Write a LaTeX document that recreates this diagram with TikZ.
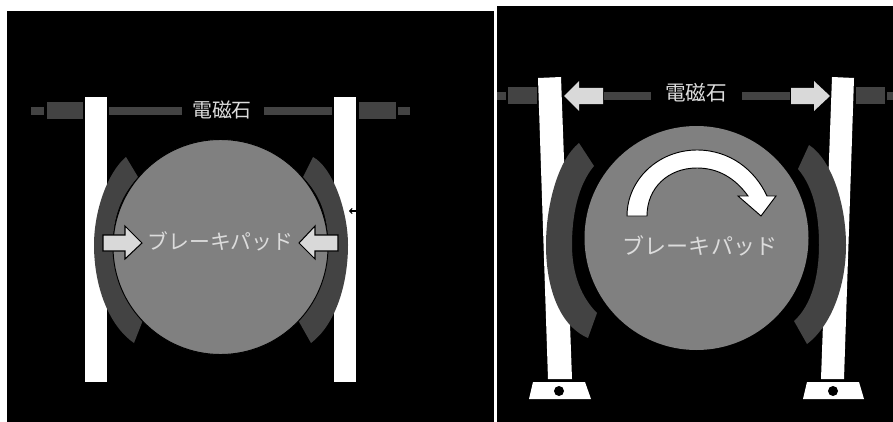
\documentclass[tikz,border=0pt]{standalone}
\usepackage{fontspec}
\usetikzlibrary{positioning,arrows.meta}
\setmainfont{Noto Sans CJK JP}
\definecolor{panelBlack}{HTML}{000000}
\definecolor{padGray}{HTML}{434343}
\definecolor{discGray}{HTML}{808080}
\definecolor{arrowGray}{HTML}{D9D9D9}
\definecolor{labelGray}{HTML}{DCDCDC}
\tikzset{
    panel/.style={fill=panelBlack,draw=none},
    coil/.style={fill=padGray,draw=none},
    pad/.style={fill=padGray,draw=none},
    disc/.style={fill=discGray,draw=none},
    bar/.style={fill=white,draw=none},
    blockarrow/.style={fill=arrowGray,draw=black,line width=0.9pt,line join=miter},
    turn/.style={fill=white,draw=black,line width=0.8pt},
    caption/.style={text=labelGray,font=\fontsize{17}{17}\selectfont,inner sep=0pt}
}
\begin{document}
\begin{tikzpicture}[x=0.03cm,y=-0.03cm]
    \useasboundingbox (0,0) rectangle (893,422);
    \fill[white] (0,0) rectangle (893,422);
    \fill[panel] (7,11) rectangle (494,422);
    \fill[panel] (497,6) rectangle (893,422);

    % left panel
    \fill[coil] (31,107) rectangle (44,115);
    \fill[coil] (47,102) rectangle (83,119);
    \fill[coil] (109,107) rectangle (182,115);
    \fill[coil] (264,107) rectangle (332,115);
    \fill[coil] (359,102) rectangle (396,119);
    \fill[coil] (398,107) rectangle (410,115);
    \fill[bar] (85,97) rectangle (107,382);
    \fill[bar] (334,97) rectangle (356,382);
    \fill[pad] (126,157) .. controls (108,172) and (94,210) .. (94,245)
        .. controls (94,285) and (108,325) .. (134,343)
        -- (143,320) .. controls (122,300) and (113,275) .. (113,245)
        .. controls (113,215) and (122,195) .. (138,177) -- cycle;
    \fill[pad] (313,157) .. controls (332,167) and (348,210) .. (348,245)
        .. controls (348,285) and (335,325) .. (311,343)
        -- (298,320) .. controls (318,300) and (328,275) .. (328,245)
        .. controls (328,215) and (320,195) .. (303,177) -- cycle;
    \fill[disc,draw=black,line width=0.8pt] (220.5,247) circle[radius=107.5];
    \node[caption] (magnetA) at (222,110) {電磁石};
    \node[caption,font=\fontsize{17.8}{18}\selectfont] (padA) at (220.5,241) {ブレーキパッド};
    \draw[blockarrow] (103,235) -- (125,235) -- (125,226) -- (142,243) -- (125,259) -- (125,251) -- (103,251) -- cycle;
    \draw[blockarrow] (338,235) -- (315,235) -- (315,226) -- (299,243) -- (315,259) -- (315,251) -- (338,251) -- cycle;
    \draw[-{To[length=3pt,width=5pt]},black,line width=0.9pt] (356,211) -- (349,211);

    % right panel
    \fill[coil] (497,92) rectangle (506,100);
    \fill[coil] (508,87) rectangle (537,104);
    \fill[coil] (604,92) rectangle (651,100);
    \fill[coil] (742,92) rectangle (790,100);
    \fill[coil] (856,87) rectangle (885,104);
    \fill[coil] (887,92) rectangle (893,100);
    \fill[bar] (538,78) -- (561,77) -- (572,379) -- (548,379) -- cycle;
    \fill[bar] (832,77) -- (854,78) -- (844,379) -- (821,379) -- cycle;
    \fill[bar] (533,382) -- (585,382) -- (591,399) -- (529,399) -- cycle;
    \fill[bar] (807,382) -- (859,382) -- (864,399) -- (803,399) -- cycle;
    \fill[black] (559,391) circle[radius=5];
    \fill[black] (833,391) circle[radius=5];
    \fill[pad] (579,143) .. controls (558,160) and (546,205) .. (546,245)
        .. controls (546,285) and (558,325) .. (588,338)
        -- (597,313) .. controls (582,298) and (572,275) .. (572,245)
        .. controls (572,215) and (578,185) .. (594,166) -- cycle;
    \fill[pad] (809,145) .. controls (832,160) and (846,205) .. (846,245)
        .. controls (846,285) and (832,325) .. (807,344)
        -- (794,321) .. controls (812,305) and (819,275) .. (819,245)
        .. controls (819,215) and (814,188) .. (798,169) -- cycle;
    \fill[disc] (696.5,238) circle[radius=112];
    \node[caption,font=\fontsize{17.6}{18}\selectfont] (magnetB) at (696,93) {電磁石};
    \node[caption,font=\fontsize{18.8}{19}\selectfont] (padB) at (700,246) {ブレーキパッド};
    \draw[blockarrow,draw=none] (603,88) -- (579,88) -- (579,81) -- (564,96) -- (579,111) -- (579,104) -- (603,104) -- cycle;
    \draw[blockarrow,draw=none] (791,88) -- (814,88) -- (814,81) -- (830,96) -- (814,111) -- (814,104) -- (791,104) -- cycle;
    \draw[turn] (627,216) .. controls (627,180) and (658,150) .. (697,150)
        .. controls (730,150) and (755,170) .. (767,196) -- (776,196) -- (761,216) -- (738,196) -- (748,196)
        .. controls (735,178) and (718,168) .. (697,168)
        .. controls (668,168) and (647,188) .. (647,216) -- cycle;
\end{tikzpicture}
\end{document}
